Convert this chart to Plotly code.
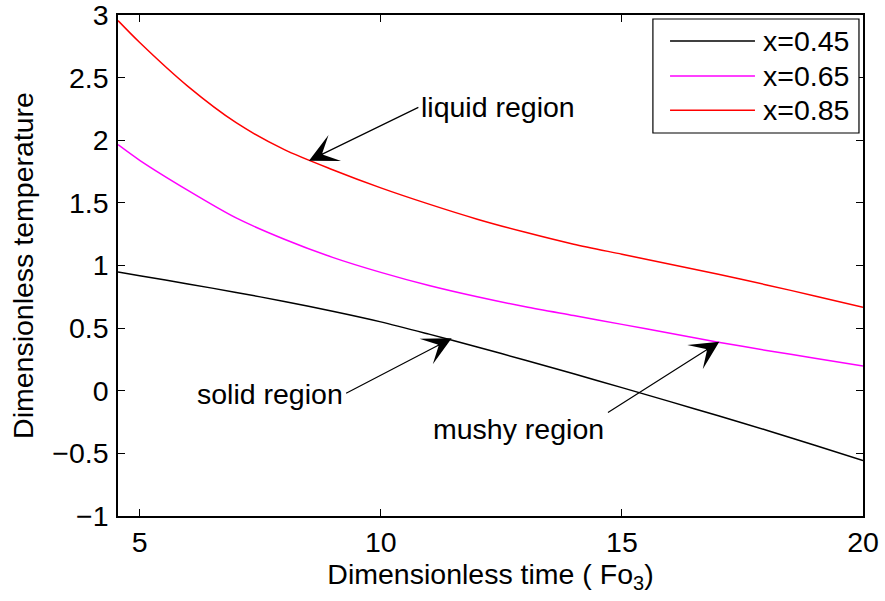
import plotly.graph_objects as go

# ---- data ----
time = [4.55, 5, 6, 7, 8, 9, 10, 11, 12, 13, 14, 15, 16, 17, 18, 19, 20]
temp_045 = [0.948, 0.918, 0.853, 0.785, 0.713, 0.635, 0.55, 0.452, 0.35, 0.243, 0.135, 0.025, -0.087, -0.20, -0.315, -0.435, -0.558]
temp_065 = [1.965, 1.84, 1.60, 1.38, 1.21, 1.065, 0.945, 0.84, 0.75, 0.67, 0.60, 0.53, 0.46, 0.388, 0.322, 0.26, 0.198]
temp_085 = [2.955, 2.78, 2.43, 2.14, 1.925, 1.765, 1.62, 1.49, 1.37, 1.265, 1.17, 1.09, 1.01, 0.93, 0.845, 0.757, 0.666]
series_names = ["x=0.45", "x=0.65", "x=0.85"]
series_colors = ["#000000", "#ff00ff", "#ff0000"]

x_ticks = [5, 10, 15, 20]
y_ticks = [-1, -0.5, 0, 0.5, 1, 1.5, 2, 2.5, 3]
y_tick_text = ["\u22121", "\u22120.5", "0", "0.5", "1", "1.5", "2", "2.5", "3"]

# annotations: label, arrow head (x, y), arrow tail (x, y)
notes = [
    ("liquid region", (8.51, 1.837), (10.81, 2.268)),
    ("solid region", (11.47, 0.419), (9.25, -0.026)),
    ("mushy region", (17.02, 0.392), (14.68, -0.182)),
]

FONT = "Liberation Sans, Arial, Helvetica, sans-serif"
FS = 28.5

fig = go.Figure()
for name, color, ys in zip(series_names, series_colors, [temp_045, temp_065, temp_085]):
    fig.add_trace(go.Scatter(x=time, y=ys, mode="lines", name=name,
                             line=dict(color=color, width=1.5, shape="spline", smoothing=0.8),
                             showlegend=False))

# arrows + labels
for label, head, tail in notes:
    fig.add_annotation(x=head[0], y=head[1], ax=tail[0], ay=tail[1],
                       xref="x", yref="y", axref="x", ayref="y",
                       text="", showarrow=True, arrowhead=3, arrowsize=4,
                       arrowwidth=1.2, arrowcolor="black", standoff=0)
label_anchor = {"liquid region": ("left", "middle", -1, 0),
                "solid region": ("right", "middle", 0, 0),
                "mushy region": ("right", "top", 0, 3)}
for label, head, tail in notes:
    xa, ya, xs, ys_ = label_anchor[label]
    fig.add_annotation(x=tail[0], y=tail[1], xref="x", yref="y", text=label,
                       showarrow=False, xanchor=xa, yanchor=ya, xshift=xs, yshift=ys_,
                       font=dict(family=FONT, size=FS, color="black"))

# custom MATLAB-style legend
lx0, lx1, ly0, ly1 = 0.718, 0.9946, 0.7645, 0.992
fig.add_shape(type="rect", xref="paper", yref="paper", x0=lx0, x1=lx1, y0=ly0, y1=ly1,
              line=dict(color="black", width=1.2), fillcolor="white", layer="above")
row_y = [0.948, 0.878, 0.810]
for name, color, ry in zip(series_names, series_colors, row_y):
    fig.add_shape(type="line", xref="paper", yref="paper", x0=0.741, x1=0.855, y0=ry, y1=ry,
                  line=dict(color=color, width=1.5), layer="above")
    fig.add_annotation(x=0.863, y=ry, xref="paper", yref="paper", text=name, showarrow=False,
                       xanchor="left", yanchor="middle",
                       font=dict(family=FONT, size=FS, color="black"))

axis_common = dict(showgrid=False, zeroline=False, showline=True, linecolor="black",
                   linewidth=1.5, mirror="ticks", ticks="inside", ticklen=7,
                   tickcolor="black", tickwidth=1.2, ticklabeloverflow="allow",
                   tickfont=dict(family=FONT, size=FS, color="black"))

fig.update_xaxes(range=[4.55, 20], tickvals=x_ticks, ticktext=[str(v) for v in x_ticks],
                 title=dict(text="Dimensionless time ( Fo<sub>3</sub>)",
                            font=dict(family=FONT, size=FS, color="black"), standoff=1),
                 **axis_common)
fig.update_yaxes(range=[-1, 3], tickvals=y_ticks, ticktext=y_tick_text,
                 ticklabelstandoff=2,
                 title=dict(text="Dimensionless temperature",
                            font=dict(family=FONT, size=FS, color="black"), standoff=10),
                 **axis_common)

fig.update_layout(width=885, height=601, paper_bgcolor="white", plot_bgcolor="white",
                  margin=dict(l=118, r=22, t=15, b=85, autoexpand=False),
                  font=dict(family=FONT, size=FS, color="black"))

fig.write_html("out.html")
